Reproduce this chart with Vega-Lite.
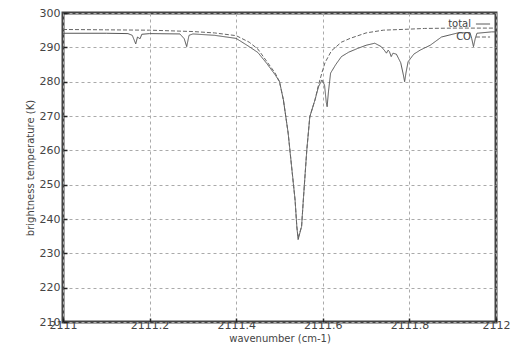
{
  "$schema": "https://vega.github.io/schema/vega-lite/v6.json",
  "width": 433,
  "height": 309,
  "autosize": "none",
  "padding": {"left": 63, "top": 13, "right": 21, "bottom": 31},
  "background": "white",
  "config": {
    "view": {"stroke": "#444", "strokeWidth": 3},
    "font": "DejaVu Sans"
  },
  "datasets": {
    "co": [
      {"w": 2111.00, "T": 295.2}, {"w": 2111.10, "T": 295.1}, {"w": 2111.20, "T": 295.0},
      {"w": 2111.30, "T": 294.6}, {"w": 2111.35, "T": 294.2}, {"w": 2111.40, "T": 293.4},
      {"w": 2111.43, "T": 291.5}, {"w": 2111.45, "T": 289.5}, {"w": 2111.47, "T": 286.0},
      {"w": 2111.49, "T": 282.5}, {"w": 2111.50, "T": 280.0}, {"w": 2111.509, "T": 274.7},
      {"w": 2111.52, "T": 265.0}, {"w": 2111.528, "T": 255.2}, {"w": 2111.536, "T": 245.5},
      {"w": 2111.540, "T": 237.8}, {"w": 2111.543, "T": 234.5}, {"w": 2111.551, "T": 237.8},
      {"w": 2111.555, "T": 245.5}, {"w": 2111.563, "T": 260.0}, {"w": 2111.570, "T": 269.8},
      {"w": 2111.582, "T": 274.7}, {"w": 2111.59, "T": 279.0}, {"w": 2111.60, "T": 283.5},
      {"w": 2111.605, "T": 285.5}, {"w": 2111.62, "T": 289.0}, {"w": 2111.643, "T": 291.5},
      {"w": 2111.663, "T": 292.6}, {"w": 2111.70, "T": 294.2}, {"w": 2111.74, "T": 295.0},
      {"w": 2111.80, "T": 295.3}, {"w": 2111.835, "T": 295.5}, {"w": 2111.90, "T": 295.6},
      {"w": 2112.00, "T": 295.6}
    ],
    "total": [
      {"w": 2111.00, "T": 294.1}, {"w": 2111.10, "T": 294.1}, {"w": 2111.15, "T": 294.0},
      {"w": 2111.160, "T": 293.5}, {"w": 2111.168, "T": 291.0}, {"w": 2111.172, "T": 293.0},
      {"w": 2111.178, "T": 292.5}, {"w": 2111.182, "T": 293.8}, {"w": 2111.20, "T": 294.0},
      {"w": 2111.27, "T": 293.9}, {"w": 2111.280, "T": 292.5}, {"w": 2111.2857, "T": 290.2},
      {"w": 2111.291, "T": 293.5}, {"w": 2111.30, "T": 293.9}, {"w": 2111.35, "T": 293.5},
      {"w": 2111.40, "T": 292.6}, {"w": 2111.43, "T": 290.2}, {"w": 2111.45, "T": 288.5},
      {"w": 2111.47, "T": 285.4}, {"w": 2111.49, "T": 282.0}, {"w": 2111.50, "T": 280.0},
      {"w": 2111.509, "T": 274.7}, {"w": 2111.52, "T": 265.0}, {"w": 2111.528, "T": 255.2},
      {"w": 2111.536, "T": 245.5}, {"w": 2111.540, "T": 237.8}, {"w": 2111.543, "T": 234.0},
      {"w": 2111.551, "T": 237.8}, {"w": 2111.555, "T": 245.5}, {"w": 2111.563, "T": 260.0},
      {"w": 2111.570, "T": 269.8}, {"w": 2111.582, "T": 274.7}, {"w": 2111.59, "T": 278.5},
      {"w": 2111.598, "T": 280.5}, {"w": 2111.604, "T": 279.0}, {"w": 2111.608, "T": 274.0},
      {"w": 2111.610, "T": 272.7}, {"w": 2111.613, "T": 277.0}, {"w": 2111.618, "T": 282.5},
      {"w": 2111.63, "T": 285.0}, {"w": 2111.643, "T": 287.3}, {"w": 2111.66, "T": 288.6},
      {"w": 2111.681, "T": 289.7}, {"w": 2111.70, "T": 290.6}, {"w": 2111.72, "T": 291.2},
      {"w": 2111.735, "T": 290.2}, {"w": 2111.743, "T": 289.0}, {"w": 2111.747, "T": 288.3},
      {"w": 2111.751, "T": 289.2}, {"w": 2111.754, "T": 288.7}, {"w": 2111.758, "T": 287.3},
      {"w": 2111.762, "T": 288.3}, {"w": 2111.77, "T": 288.0}, {"w": 2111.78, "T": 285.5},
      {"w": 2111.786, "T": 282.0}, {"w": 2111.789, "T": 280.0}, {"w": 2111.792, "T": 282.5},
      {"w": 2111.797, "T": 285.8}, {"w": 2111.81, "T": 288.0}, {"w": 2111.825, "T": 289.2},
      {"w": 2111.848, "T": 290.6}, {"w": 2111.874, "T": 293.0}, {"w": 2111.912, "T": 294.2},
      {"w": 2111.94, "T": 294.3},
      {"w": 2111.944, "T": 292.5}, {"w": 2111.948, "T": 290.2}, {"w": 2111.952, "T": 292.5},
      {"w": 2111.956, "T": 294.1}, {"w": 2111.99, "T": 294.5}, {"w": 2112.00, "T": 294.5}
    ]
  },
  "encoding": {
    "x": {
      "field": "w", "type": "quantitative",
      "scale": {"domain": [2111, 2112], "nice": false, "zero": false},
      "axis": {
        "title": "wavenumber (cm-1)", "values": [2111, 2111.2, 2111.4, 2111.6, 2111.8, 2112],
        "format": "~g", "grid": true, "gridDash": [3, 3], "gridColor": "#aaa", "gridOpacity": 1,
        "domain": false, "tickSize": -4, "tickColor": "#222", "tickWidth": 1.5,
        "labelFontSize": 11, "labelColor": "#444", "labelPadding": 1, "labelFlush": false,
        "labelOverlap": false,
        "titleFontSize": 10, "titleColor": "#444", "titleFontWeight": "normal", "titlePadding": 3
      }
    },
    "y": {
      "field": "T", "type": "quantitative",
      "scale": {"domain": [210, 300], "nice": false, "zero": false},
      "axis": {
        "title": "brightness temperature (K)", "values": [210, 220, 230, 240, 250, 260, 270, 280, 290, 300],
        "grid": true, "gridDash": [3, 3], "gridColor": "#aaa", "gridOpacity": 1,
        "domain": false, "tickSize": -4, "tickColor": "#222", "tickWidth": 1.5,
        "labelFontSize": 11, "labelColor": "#444", "labelPadding": 7, "labelOverlap": false,
        "titleFontSize": 10, "titleColor": "#444", "titleFontWeight": "normal", "titlePadding": 4
      }
    },
    "color": {
      "field": "series", "type": "nominal",
      "scale": {"domain": ["total", "CO"], "range": ["#555", "#666"]},
      "legend": {
        "title": null, "orient": "top-right", "offset": 3, "symbolType": "stroke",
        "symbolSize": 200, "labelFontSize": 10, "labelColor": "#444", "rowPadding": 0,
        "symbolStrokeWidth": 1, "labelAlign": "right", "labelOffset": -20
      }
    },
    "strokeDash": {
      "field": "series", "type": "nominal",
      "scale": {"domain": ["total", "CO"], "range": [[1, 0], [4, 2]]},
      "legend": {
        "title": null, "orient": "top-right", "offset": 3, "symbolType": "stroke",
        "symbolSize": 200, "labelFontSize": 10, "labelColor": "#444", "rowPadding": 0,
        "symbolStrokeWidth": 1, "labelAlign": "right", "labelOffset": -20
      }
    }
  },
  "layer": [
    {
      "data": {"name": "total"},
      "transform": [{"calculate": "'total'", "as": "series"}],
      "mark": {"type": "line", "strokeWidth": 1, "interpolate": "linear"}
    },
    {
      "data": {"name": "co"},
      "transform": [{"calculate": "'CO'", "as": "series"}],
      "mark": {"type": "line", "strokeWidth": 1, "interpolate": "linear"}
    }
  ]
}
